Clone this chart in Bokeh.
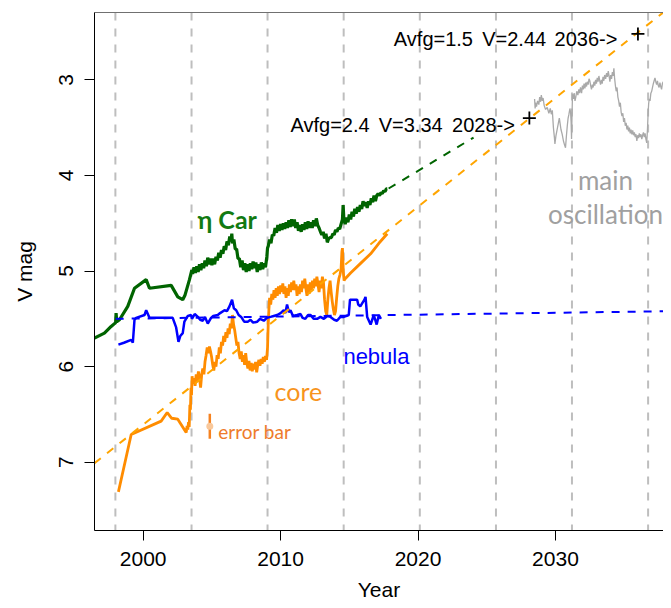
from bokeh.plotting import figure
from bokeh.models import Range1d, FixedTicker, LinearAxis, Span
from bokeh.core.properties import value
from bokeh.embed import file_html
from bokeh.resources import INLINE

# ---------------- data ----------------
periastron_years = [1997.98, 2003.52, 2009.05, 2014.59, 2020.13, 2025.67, 2031.20, 2036.74]

eta_year = [1996.46, 1997.18, 1997.67, 1998.00, 1998.03, 1998.08, 1998.28, 1998.88, 1999.37,
            2000.22, 2000.46, 2002.04, 2002.52, 2002.88, 2003.05, 2003.37, 2003.54,
            2003.6, 2003.7, 2003.8, 2003.9, 2004.0, 2004.1, 2004.2, 2004.3, 2004.4, 2004.5,
            2004.6, 2004.7, 2004.8, 2004.9, 2005.0, 2005.1, 2005.2, 2005.3, 2005.4, 2005.5,
            2005.6, 2005.7, 2005.8, 2005.9, 2006.0, 2006.1, 2006.2, 2006.3, 2006.4, 2006.45,
            2006.5, 2006.6, 2006.7, 2006.8, 2006.9, 2007.0, 2007.1, 2007.2, 2007.3, 2007.4,
            2007.5, 2007.6, 2007.7, 2007.8, 2007.9, 2008.0, 2008.1, 2008.2, 2008.3, 2008.4,
            2008.5, 2008.6, 2008.7, 2008.8, 2008.9, 2009.0, 2009.05, 2009.1, 2009.2, 2009.3,
            2009.4, 2009.5, 2009.6, 2009.7, 2009.8, 2009.9, 2010.0, 2010.1, 2010.2, 2010.3,
            2010.4, 2010.5, 2010.6, 2010.7, 2010.8, 2010.9, 2011.0, 2011.1, 2011.2, 2011.3,
            2011.4, 2011.5, 2011.6, 2011.7, 2011.8, 2011.9, 2012.0, 2012.1, 2012.2, 2012.3,
            2012.4, 2012.5, 2012.6, 2012.7, 2012.8, 2012.9, 2013.0, 2013.1, 2013.2, 2013.3,
            2013.4, 2013.5, 2013.6, 2013.7, 2013.8, 2013.9, 2014.0, 2014.1, 2014.2, 2014.3,
            2014.4, 2014.5, 2014.55, 2014.6, 2014.7, 2014.8, 2014.9, 2015.0, 2015.1, 2015.2,
            2015.3, 2015.4, 2015.5, 2015.6, 2015.7, 2015.8, 2015.9, 2016.0, 2016.1, 2016.2,
            2016.3, 2016.4, 2016.5, 2016.6, 2016.7, 2016.8, 2016.9, 2017.0, 2017.1, 2017.2,
            2017.3, 2017.4, 2017.5, 2017.6, 2017.7, 2017.76]
eta_mag = [5.70, 5.65, 5.58, 5.54, 5.44, 5.53, 5.51, 5.37, 5.18,
           5.09, 5.18, 5.15, 5.27, 5.30, 5.25, 5.09, 4.99,
           5.03, 4.96, 5.02, 4.95, 5.01, 4.93, 4.99, 4.92, 4.97, 4.89,
           4.95, 4.86, 4.93, 4.87, 4.94, 4.87, 4.93, 4.85, 4.89, 4.81,
           4.86, 4.78, 4.82, 4.74, 4.78, 4.69, 4.73, 4.64, 4.69, 4.61,
           4.71, 4.67, 4.77, 4.77, 4.87, 4.87, 4.96, 4.89, 4.99, 4.92,
           5.01, 4.93, 5.00, 4.92, 4.98, 4.90, 4.97, 4.91, 5.01, 4.93,
           4.99, 4.91, 4.98, 4.92, 4.96, 4.85, 4.76, 4.74, 4.67, 4.71,
           4.62, 4.63, 4.55, 4.60, 4.52, 4.58, 4.51, 4.57, 4.50, 4.56,
           4.49, 4.55, 4.47, 4.54, 4.46, 4.53, 4.46, 4.55, 4.49, 4.58,
           4.52, 4.59, 4.51, 4.57, 4.49, 4.56, 4.48, 4.55, 4.49, 4.55,
           4.47, 4.53, 4.45, 4.52, 4.55, 4.59, 4.62, 4.59, 4.66, 4.61,
           4.70, 4.66, 4.65, 4.65, 4.61, 4.62, 4.57, 4.59, 4.55, 4.56,
           4.51, 4.46, 4.31, 4.45, 4.51, 4.44, 4.49, 4.41, 4.46, 4.38,
           4.43, 4.35, 4.40, 4.33, 4.38, 4.31, 4.35, 4.27, 4.32, 4.28,
           4.34, 4.27, 4.31, 4.24, 4.28, 4.21, 4.27, 4.21, 4.19, 4.21,
           4.18, 4.19, 4.16, 4.17, 4.14, 4.14]

core_year = [1998.20, 1999.13, 2001.31, 2001.75, 2002.08, 2002.52, 2003.13, 2003.20, 2003.25,
             2003.30, 2003.35, 2003.40, 2003.44, 2003.48, 2003.52, 2003.56, 2003.62, 2003.70,
             2003.78, 2003.86, 2003.94, 2004.02, 2004.10, 2004.18, 2004.26, 2004.34, 2004.42,
             2004.50, 2004.58, 2004.66, 2004.74, 2004.82, 2004.90, 2004.98, 2005.06, 2005.14,
             2005.22, 2005.30, 2005.38, 2005.46, 2005.54, 2005.62, 2005.70, 2005.78, 2005.86,
             2005.94, 2006.02, 2006.10, 2006.18, 2006.26, 2006.34, 2006.42, 2006.50, 2006.58,
             2006.66, 2006.74, 2006.82, 2006.90, 2006.98, 2007.06, 2007.14, 2007.22, 2007.30,
             2007.38, 2007.46, 2007.54, 2007.62, 2007.70, 2007.78, 2007.86, 2007.94, 2008.02,
             2008.10, 2008.18, 2008.26, 2008.34, 2008.42, 2008.50, 2008.58, 2008.66, 2008.74,
             2008.82, 2008.90, 2008.98, 2009.05, 2009.10, 2009.15, 2009.20, 2009.28, 2009.36,
             2009.44, 2009.52, 2009.60, 2009.68, 2009.76, 2009.84, 2009.92, 2010.00, 2010.08,
             2010.16, 2010.24, 2010.32, 2010.40, 2010.48, 2010.56, 2010.64, 2010.72, 2010.80,
             2010.88, 2010.96, 2011.04, 2011.12, 2011.20, 2011.28, 2011.36, 2011.44, 2011.52,
             2011.60, 2011.68, 2011.76, 2011.84, 2011.92, 2012.00, 2012.08, 2012.16, 2012.24,
             2012.32, 2012.40, 2012.48, 2012.56, 2012.64, 2012.72, 2012.80, 2012.88, 2012.96,
             2013.04, 2013.12, 2013.20, 2013.28, 2013.36, 2013.44, 2013.52, 2013.60, 2013.68,
             2013.76, 2013.84, 2013.92, 2014.00, 2014.08, 2014.16, 2014.24, 2014.32, 2014.40,
             2014.46, 2014.50, 2014.56, 2014.62, 2014.70, 2015.09, 2015.82, 2016.55, 2017.15,
             2017.76]
core_mag = [7.31, 6.71, 6.57, 6.48, 6.54, 6.55, 6.69, 6.62, 6.66,
            6.58, 6.63, 6.40, 6.45, 6.22, 6.30, 6.10, 6.18, 6.12,
            6.20, 6.08, 6.15, 6.05, 6.12, 6.22, 6.08, 6.02, 6.08,
            5.95, 5.88, 5.80, 5.86, 5.79, 5.84, 5.90, 5.98, 6.04,
            5.95, 6.00, 5.88, 5.92, 5.80, 5.86, 5.74, 5.78, 5.68,
            5.74, 5.64, 5.70, 5.60, 5.66, 5.55, 5.60, 5.46, 5.56,
            5.62, 5.70, 5.78, 5.74, 5.86, 5.92, 5.84, 5.95, 5.88,
            5.98, 5.86, 5.96, 6.02, 5.94, 6.04, 5.96, 6.05, 5.97,
            6.03, 5.95, 6.06, 5.98, 5.93, 5.99, 5.92, 5.97, 5.90,
            5.95, 5.89, 5.93, 5.80, 5.55, 5.40, 5.28, 5.35, 5.24,
            5.30, 5.20, 5.28, 5.18, 5.26, 5.16, 5.24, 5.15, 5.22,
            5.13, 5.24, 5.16, 5.28, 5.18, 5.26, 5.14, 5.22, 5.12,
            5.20, 5.10, 5.20, 5.14, 5.26, 5.16, 5.24, 5.14, 5.22,
            5.10, 5.18, 5.08, 5.18, 5.26, 5.14, 5.24, 5.12, 5.20,
            5.10, 5.18, 5.08, 5.16, 5.06, 5.14, 5.22, 5.10, 5.18,
            5.06, 5.12, 5.30, 5.42, 5.46, 5.30, 5.18, 5.10, 5.22,
            5.32, 5.40, 5.46, 5.42, 5.28, 5.16, 5.08, 5.04, 4.98,
            4.80, 4.76, 5.00, 5.10, 5.08, 5.02, 4.92, 4.82, 4.71,
            4.61]

neb_year = [1998.20, 1998.60, 1999.13, 1999.25, 1999.37, 1999.49, 2000.10, 2000.22, 2000.46,
            2002.15, 2002.40, 2002.57, 2002.70, 2002.88, 2003.00, 2003.25, 2003.49, 2003.55,
            2003.75, 2003.98, 2004.15, 2004.34, 2004.50, 2004.70, 2004.94, 2005.10, 2005.43,
            2005.60, 2005.92, 2006.10, 2006.28, 2006.47, 2006.60, 2006.77, 2006.95, 2007.13,
            2007.35, 2007.61, 2007.81, 2008.00, 2008.30, 2008.50, 2008.78, 2009.00, 2009.27,
            2009.50, 2009.75, 2010.00, 2010.23, 2010.35, 2010.47, 2010.60, 2010.72, 2010.90,
            2011.20, 2011.45, 2011.60, 2011.80, 2012.00, 2012.18, 2012.40, 2012.66, 2012.90,
            2013.15, 2013.40, 2013.63, 2013.90, 2014.10, 2014.35, 2014.60, 2014.96, 2015.05,
            2015.09, 2015.57, 2015.65, 2015.80, 2016.10, 2016.18, 2016.30, 2016.55, 2016.78,
            2016.99, 2017.15, 2017.30]
neb_mag = [5.77, 5.75, 5.72, 5.75, 5.51, 5.49, 5.46, 5.41, 5.49,
           5.49, 5.59, 5.74, 5.68, 5.65, 5.53, 5.47, 5.46, 5.50,
           5.45, 5.48, 5.51, 5.52, 5.48, 5.55, 5.49, 5.47, 5.46,
           5.44, 5.41, 5.42, 5.37, 5.30, 5.39, 5.41, 5.46, 5.48,
           5.53, 5.53, 5.51, 5.54, 5.53, 5.50, 5.52, 5.49, 5.48,
           5.47, 5.46, 5.44, 5.41, 5.44, 5.35, 5.43, 5.41, 5.47,
           5.46, 5.45, 5.49, 5.50, 5.46, 5.46, 5.50, 5.50, 5.48,
           5.50, 5.47, 5.48, 5.51, 5.52, 5.48, 5.48, 5.46, 5.30,
           5.30, 5.30, 5.35, 5.37, 5.30, 5.27, 5.48, 5.56, 5.46,
           5.56, 5.46, 5.50]

osc_year = [2028.48, 2028.52, 2028.55, 2028.62, 2028.70, 2028.79, 2028.85, 2028.92, 2028.97,
            2029.04, 2029.10, 2029.18, 2029.28, 2029.40, 2029.52, 2029.62, 2029.70, 2029.77,
            2029.85, 2029.92, 2029.96, 2030.04, 2030.12, 2030.20, 2030.28, 2030.32, 2030.40,
            2030.49, 2030.58, 2030.66, 2030.73, 2030.80, 2030.86, 2030.92, 2030.98, 2031.05,
            2031.10, 2031.14, 2031.17, 2031.20, 2031.24, 2031.30, 2031.36, 2031.42, 2031.48,
            2031.55, 2031.63, 2031.70, 2031.76, 2031.82, 2031.90, 2031.96, 2032.02, 2032.08,
            2032.14, 2032.20, 2032.26, 2032.31, 2032.38, 2032.44, 2032.50, 2032.56, 2032.62,
            2032.68, 2032.74, 2032.80, 2032.86, 2032.92, 2032.98, 2033.04, 2033.10, 2033.16,
            2033.22, 2033.28, 2033.34, 2033.40, 2033.46, 2033.52, 2033.58, 2033.65, 2033.72,
            2033.78, 2033.84, 2033.90, 2033.96, 2034.02, 2034.08, 2034.14, 2034.20, 2034.25,
            2034.30, 2034.36, 2034.42, 2034.48, 2034.54, 2034.60, 2034.66, 2034.72, 2034.78,
            2034.84, 2034.90, 2034.96, 2035.02, 2035.08, 2035.14, 2035.20, 2035.26, 2035.32,
            2035.38, 2035.44, 2035.50, 2035.56, 2035.62, 2035.68, 2035.74, 2035.80, 2035.86,
            2035.92, 2035.98, 2036.04, 2036.10, 2036.16, 2036.22, 2036.28, 2036.34, 2036.40,
            2036.46, 2036.52, 2036.58, 2036.64, 2036.70, 2036.74, 2036.78, 2036.82, 2036.88,
            2036.94, 2037.00, 2037.06, 2037.12, 2037.18, 2037.24, 2037.30, 2037.36, 2037.42,
            2037.48, 2037.54, 2037.60, 2037.66, 2037.72, 2037.78, 2037.84, 2037.90, 2037.96,
            2038.02, 2038.10, 2038.20, 2038.30, 2038.45]
osc_mag = [3.20, 3.30, 3.24, 3.28, 3.22, 3.26, 3.18, 3.23, 3.16,
           3.22, 3.19, 3.27, 3.31, 3.29, 3.35, 3.30, 3.36, 3.32,
           3.50, 3.60, 3.67, 3.58, 3.52, 3.46, 3.40, 3.44, 3.52,
           3.57, 3.64, 3.68, 3.71, 3.58, 3.48, 3.40, 3.36, 3.30,
           3.34, 3.45, 3.62, 3.40, 3.15, 3.20, 3.14, 3.22, 3.18,
           3.12, 3.16, 3.10, 3.14, 3.08, 3.14, 3.06, 3.10, 3.04,
           3.09, 3.03, 3.07, 3.02, 3.05, 2.99, 3.01, 3.06, 3.10,
           3.05, 3.08, 3.02, 3.06, 3.00, 3.04, 2.98, 3.02, 2.96,
           3.01, 3.05, 3.00, 3.04, 2.97, 3.01, 2.95, 2.99, 2.93,
           2.97, 2.91, 2.96, 3.02, 2.95, 2.99, 2.92, 2.96, 2.88,
           2.98, 3.06, 3.12, 3.08, 3.18, 3.22, 3.28, 3.24, 3.34,
           3.38, 3.35, 3.44, 3.40, 3.48, 3.45, 3.52, 3.48, 3.54,
           3.50, 3.56, 3.52, 3.57, 3.53, 3.58, 3.55, 3.60, 3.57,
           3.64, 3.58, 3.61, 3.56, 3.60, 3.57, 3.62, 3.58, 3.55,
           3.60, 3.56, 3.62, 3.66, 3.50, 3.35, 3.25, 3.20, 3.22,
           3.14, 3.12, 3.08, 3.04, 3.01, 2.98, 3.02, 3.05, 3.01,
           3.06, 3.08, 3.03, 3.07, 3.10, 3.04, 3.02, 3.07, 3.03,
           3.06, 3.02, 3.05, 3.01, 3.03]

core_trend_year = [1996.46, 2038.50]
core_trend_mag = [7.01, 2.22]
eta_trend_year = [2017.86, 2024.04]
eta_trend_mag = [4.137, 3.604]
neb_trend_year = [1998.00, 2038.45]
neb_trend_mag = [5.50, 5.42]

forecast_year = [2028.1, 2036.0]
forecast_mag = [3.40, 2.52]
forecast_pieces = ["Avfg=2.4", "V=3.34", "2028->", "Avfg=1.5", "V=2.44", "2036->"]
forecast_piece_year = [2010.72, 2017.14, 2022.48, 2018.24, 2024.67, 2029.93]
forecast_piece_mag = [3.468, 3.468, 3.468, 2.571, 2.571, 2.571]

errbar_year = [2004.85]
errbar_lo = [6.494]
errbar_hi = [6.755]
errbar_mid = [6.623]

x_ticks = [2000, 2010, 2020, 2030]
y_ticks = [3, 4, 5, 6, 7]

# ---------------- figure ----------------
p = figure(frame_width=569, frame_height=518,
           x_range=Range1d(1996.46, 2037.86), y_range=Range1d(7.714, 2.296),
           output_backend="svg", toolbar_location=None,
           min_border_left=94, min_border_right=0, min_border_top=12, min_border_bottom=70)
p.outline_line_color = None
p.xgrid.visible = False
p.ygrid.visible = False
p.background_fill_color = "white"
p.border_fill_color = "white"

for ax in (p.xaxis[0], p.yaxis[0]):
    ax.axis_line_color = "black"
    ax.axis_line_width = 1
    ax.major_tick_line_color = "black"
    ax.major_tick_out = 10
    ax.major_tick_in = 0
    ax.minor_tick_line_color = None
    ax.major_label_text_font = "Liberation Sans"
    ax.major_label_text_font_size = "21px"
    ax.major_label_text_color = "black"
    ax.axis_label_text_font = "Liberation Sans"
    ax.axis_label_text_font_size = "21px"
    ax.axis_label_text_font_style = "normal"
    ax.axis_label_text_color = "black"

p.xaxis.ticker = FixedTicker(ticks=x_ticks)
p.yaxis.ticker = FixedTicker(ticks=y_ticks)
p.xaxis.axis_label = "Year"
p.yaxis.axis_label = "V mag"
p.xaxis.major_label_standoff = 11
p.xaxis.axis_label_standoff = 9
p.yaxis.major_label_standoff = 11
p.yaxis.axis_label_standoff = 21
p.yaxis.major_label_orientation = "vertical"

top = LinearAxis(ticker=FixedTicker(ticks=[]), axis_line_color="#707070",
                 major_tick_line_color=None, minor_tick_line_color=None,
                 major_label_text_font_size="0px", major_label_standoff=0,
                 major_tick_out=0, major_tick_in=0)
p.add_layout(top, "above")

for yr in periastron_years:
    p.add_layout(Span(location=yr, dimension="height", line_color="#BEBEBE",
                      line_width=2, line_dash="8 8", level="underlay"))

p.line(osc_year, osc_mag, line_color="#A9A9A9", line_width=1.3)

p.line(core_year, core_mag, line_color="#FF8C00", line_width=2.8)
p.line(neb_year, neb_mag, line_color="#0000FF", line_width=2.5)
p.line(eta_year, eta_mag, line_color="#006400", line_width=3.2)

p.line(core_trend_year, core_trend_mag, line_color="#FFA500", line_width=2, line_dash="8 8")
p.line(eta_trend_year, eta_trend_mag, line_color="#006400", line_width=2, line_dash="8 8")
p.line(neb_trend_year, neb_trend_mag, line_color="#0000FF", line_width=2, line_dash="8 8")

p.scatter(forecast_year, forecast_mag, marker="cross", size=13, line_color="black", line_width=1.8)
p.text(forecast_piece_year, forecast_piece_mag, text=forecast_pieces,
       text_font=value("Liberation Sans"), text_font_size="20px", text_color="black",
       text_align="left", text_baseline="alphabetic")

p.segment(errbar_year, errbar_lo, errbar_year, errbar_hi, line_color="#F58220", line_width=2.5)
p.scatter(errbar_year, errbar_mid, size=7, fill_color="#F9C89B", line_color=None)

lato = value("Lato")
p.text([2003.95], [4.454], text=["η Car"], text_font=lato, text_font_style="bold",
       text_font_size="25px", text_color="#127A12", text_baseline="alphabetic")
p.text([2009.56], [6.25], text=["core"], text_font=lato, text_font_size="25px",
       text_color="#F7941D", text_baseline="alphabetic")
p.text([2014.57], [5.894], text=["nebula"], text_font=value("Liberation Sans"),
       text_font_size="22px", text_color="#0000FF", text_baseline="alphabetic")
p.text([2005.46], [6.679], text=["error bar"], text_font=lato, text_font_size="19px",
       text_color="#EE7B2B", text_baseline="alphabetic")
p.text([2033.64, 2033.64], [4.053, 4.402], text=["main", "oscillation"], text_font=lato,
       text_font_size="26px", text_color="#A0A0A0", text_align="center", text_baseline="alphabetic")

open("out.html", "w").write(file_html(p, INLINE))
